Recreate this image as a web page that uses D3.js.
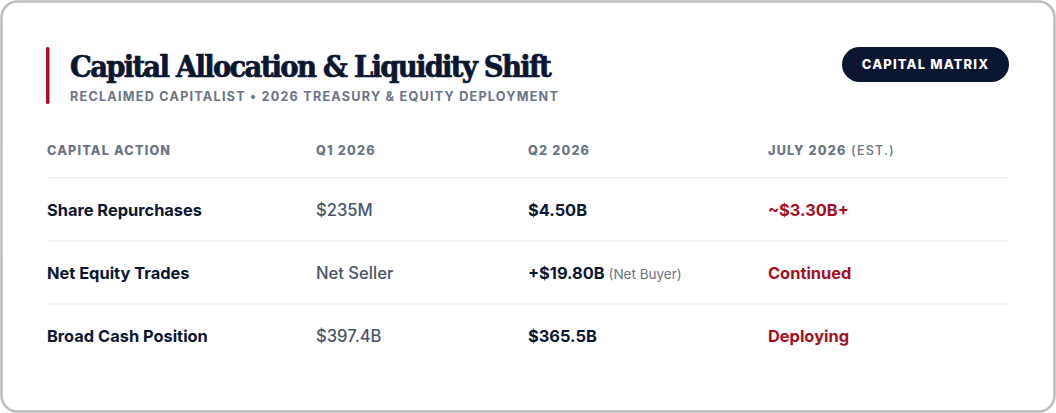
<!DOCTYPE html>
<html><head><meta charset="utf-8">
<script src="https://cdn.jsdelivr.net/npm/d3@7"></script>
<style>
html,body{margin:0;padding:0;background:#fff;}
svg{display:block;}
</style></head>
<body>
<svg id="c" width="1056" height="413"></svg>
<script>
const title = "Capital Allocation & Liquidity Shift";
const subtitle = "RECLAIMED CAPITALIST • 2026 TREASURY & EQUITY DEPLOYMENT";
const badge = "CAPITAL MATRIX";
const columns = ["CAPITAL ACTION", "Q1 2026", "Q2 2026", "JULY 2026"];
const columnNote = ["", "", "", " (EST.)"];
const actions = ["Share Repurchases", "Net Equity Trades", "Broad Cash Position"];
const q1Values = ["$235M", "Net Seller", "$397.4B"];
const q2Values = ["$4.50B", "+$19.80B", "$365.5B"];
const q2Notes = ["", " (Net Buyer)", ""];
const julyValues = ["~$3.30B+", "Continued", "Deploying"];

const C = {navy:"#0b1630", gray:"#6b7385", val:"#4a5468", red:"#a50f1e", line:"#eeeff2", border:"#bdbdbd"};
const svg = d3.select("#c");

// card
svg.append("rect").attr("x",1.5).attr("y",1.5).attr("width",1053).attr("height",410)
  .attr("rx",16).attr("fill","#fff").attr("stroke",C.border).attr("stroke-width",2.5);

// title block
svg.append("rect").attr("x",46).attr("y",47).attr("width",3.5).attr("height",57).attr("rx",1.5).attr("fill",C.red);
const t = svg.append("text").attr("x",70).attr("y",77)
  .attr("font-family","'DejaVu Serif Condensed', 'DejaVu Serif', serif")
  .attr("font-weight",700).attr("font-size",30.5).attr("fill",C.navy)
  .attr("stroke",C.navy).attr("stroke-width",0.7).attr("letter-spacing",0).text(title);
// fit width ~480 by adjusting letter spacing
const tw = t.node().getComputedTextLength();
t.attr("letter-spacing", (480 - tw) / title.length);
svg.append("text").attr("x",70).attr("y",101)
  .attr("font-family","Inter, sans-serif").attr("font-weight",700).attr("font-size",12.6)
  .attr("letter-spacing",1.25).attr("fill",C.gray).text(subtitle);

// badge
const bg = svg.append("g");
bg.append("rect").attr("x",842).attr("y",47).attr("width",167).attr("height",35).attr("rx",17.5).attr("fill",C.navy);
bg.append("text").attr("x",925.5).attr("y",69).attr("text-anchor","middle")
  .attr("font-family","Inter, sans-serif").attr("font-weight",800).attr("font-size",13)
  .attr("letter-spacing",1.15).attr("fill","#fff").text(badge);

// scales
const x = d3.scaleOrdinal().domain(columns).range([47, 316, 528, 768]);
const y = d3.scaleBand().domain(actions).range([178, 367]).paddingInner(0);
const tableRight = 1008;

// header
const hdr = svg.append("g");
columns.forEach((c,i)=>{
  const tx = hdr.append("text").attr("x",x(c)).attr("y",155)
    .attr("font-family","Inter, sans-serif").attr("font-size",12.6).attr("letter-spacing",1.2)
    .attr("fill",C.gray);
  tx.append("tspan").attr("font-weight",800).text(c);
  if (columnNote[i]) tx.append("tspan").attr("font-weight",500).text(columnNote[i]);
});

// row separators
svg.append("g").selectAll("line").data(actions).join("line")
  .attr("x1",47).attr("x2",tableRight)
  .attr("y1",d=>y(d)).attr("y2",d=>y(d))
  .attr("stroke",C.line).attr("stroke-width",1.5);

// rows
const rows = svg.append("g").selectAll("g").data(actions).join("g")
  .attr("transform",d=>`translate(0,${y(d)+y.bandwidth()/2+6})`);
rows.append("text").attr("x",x(columns[0])).attr("font-family","Inter, sans-serif")
  .attr("font-weight",700).attr("font-size",16.4).attr("fill",C.navy).text(d=>d);
rows.append("text").attr("x",x(columns[1])).attr("font-family","Inter, sans-serif")
  .attr("font-weight",500).attr("font-size",16.6).attr("fill",C.val)
  .text((d,i)=>q1Values[i]);
const q2 = rows.append("text").attr("x",x(columns[2])).attr("font-family","Inter, sans-serif")
  .attr("font-size",16.4).attr("fill",C.navy);
q2.append("tspan").attr("font-weight",700).text((d,i)=>q2Values[i]);
q2.append("tspan").attr("font-weight",400).attr("font-size",13.5).attr("fill",C.gray)
  .text((d,i)=>q2Notes[i]);
rows.append("text").attr("x",x(columns[3])).attr("font-family","Inter, sans-serif")
  .attr("font-weight",700).attr("font-size",16.4).attr("fill",C.red)
  .text((d,i)=>julyValues[i]);
</script>
</body></html>
